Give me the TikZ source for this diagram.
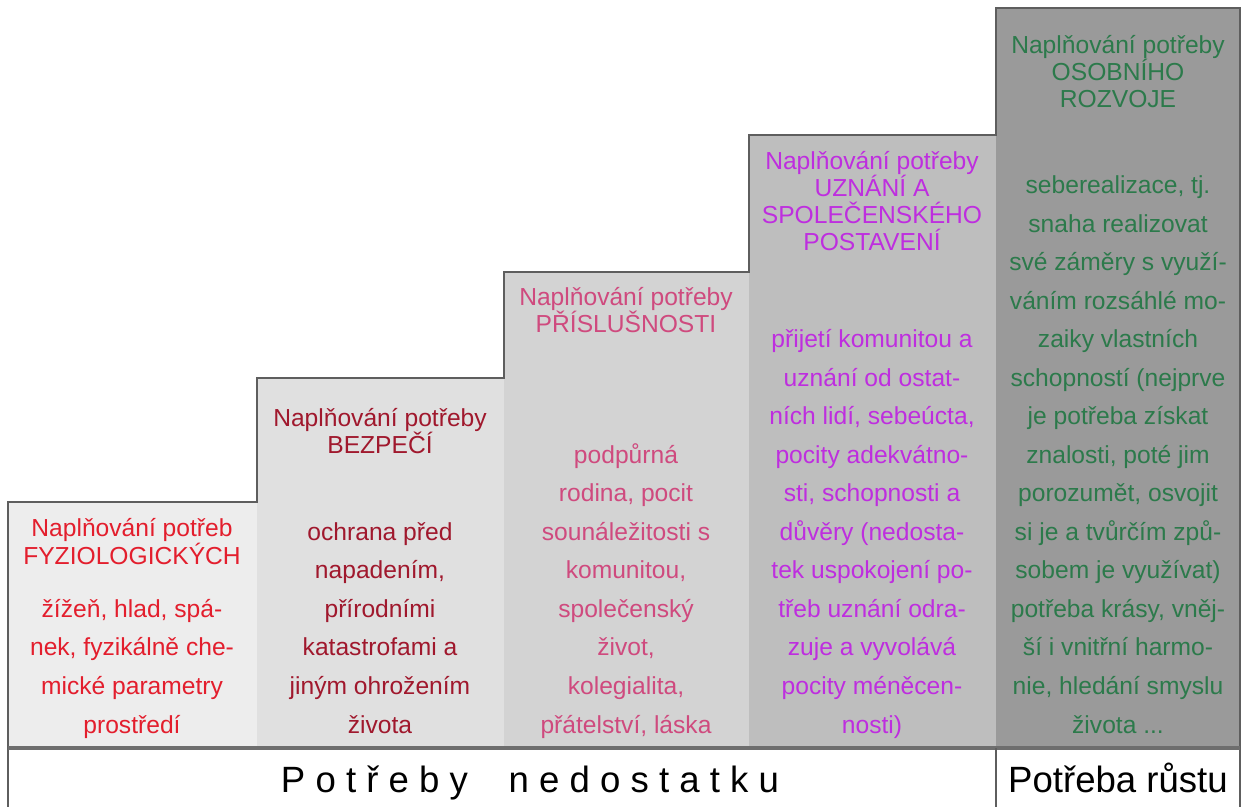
\documentclass[tikz,border=0pt]{standalone}
\usepackage{fontspec}
\setmainfont{Liberation Sans}

\definecolor{stepone}{HTML}{EDEDED}
\definecolor{steptwo}{HTML}{E0E0E0}
\definecolor{stepthree}{HTML}{D3D3D3}
\definecolor{stepfour}{HTML}{BEBEBE}
\definecolor{stepfive}{HTML}{9A9A9A}
\definecolor{textone}{HTML}{E31E2D}
\definecolor{texttwo}{HTML}{A0182D}
\definecolor{textthree}{HTML}{CF4A7E}
\definecolor{textfour}{HTML}{BE2EDF}
\definecolor{textfive}{HTML}{2C7A4B}
\definecolor{edge}{HTML}{5E5E5E}

\begin{document}
\begin{tikzpicture}[x=0.01cm, y=-0.01cm,
    needtitle/.style={align=center, anchor=base, inner sep=0pt,
      font=\fontsize{7}{7.7}\selectfont},
    needtext/.style={align=center, anchor=base, inner sep=0pt,
      font=\fontsize{7}{10.95}\selectfont},
    stair/.style={draw=edge, line width=0.6pt},
    bandtext/.style={anchor=base, inner sep=0pt,
      font=\fontsize{10.4}{12}\selectfont}
  ]

  \useasboundingbox (0,0) rectangle (1243,807);

  % the five steps
  \fill[stepone] (8,502) rectangle (257,748);
  \fill[steptwo] (257,378) rectangle (504,748);
  \fill[stepthree] (504,272) rectangle (749,748);
  \fill[stepfour] (749,135) rectangle (996,748);
  \fill[stepfive] (996,8) rectangle (1240,748);

  % outline of the staircase and the bottom band
  \draw[stair] (8,807) -- (8,502) -- (257,502) -- (257,378) -- (504,378)
    -- (504,272) -- (749,272) -- (749,135) -- (996,135) -- (996,8)
    -- (1240,8) -- (1240,807);
  \draw[draw=edge!90, line width=1.1pt] (8,748) -- (1240,748);
  \draw[stair] (996,748) -- (996,807);

  % 1st step: physiological needs
  \node[needtitle, textone] (t1) at (132,564) {Naplňování potřeb\\FYZIOLOGICKÝCH};
  \node[needtext, textone] (b1) at (132,733) {žížeň, hlad, spá-\\nek, fyzikálně che-\\mické parametry\\prostředí};

  % 2nd step: safety
  \node[needtitle, texttwo] (t2) at (380,454) {Naplňování potřeby\\BEZPEČÍ};
  \node[needtext, texttwo] (b2) at (380,733) {ochrana před\\napadením,\\přírodními\\katastrofami a\\jiným ohrožením\\života};

  % 3rd step: belonging
  \node[needtitle, textthree] (t3) at (626,333) {Naplňování potřeby\\PŘÍSLUŠNOSTI};
  \node[needtext, textthree] (b3) at (626,733) {podpůrná\\rodina, pocit\\sounáležitosti s\\komunitou,\\společenský\\život,\\kolegialita,\\přátelství, láska};

  % 4th step: esteem
  \node[needtitle, textfour] (t4) at (872,251) {Naplňování potřeby\\UZNÁNÍ A\\SPOLEČENSKÉHO\\POSTAVENÍ};
  \node[needtext, textfour] (b4) at (872,733) {přijetí komunitou a\\uznání od ostat-\\ních lidí, sebeúcta,\\pocity adekvátno-\\sti, schopnosti a\\důvěry (nedosta-\\tek uspokojení po-\\třeb uznání odra-\\zuje a vyvolává\\pocity méněcen-\\nosti)};

  % 5th step: growth
  \node[needtitle, textfive] (t5) at (1118,108) {Naplňování potřeby\\OSOBNÍHO\\ROZVOJE};
  \node[needtext, textfive] (b5) at (1118,733) {seberealizace, tj.\\snaha realizovat\\své záměry s využí-\\váním rozsáhlé mo-\\zaiky vlastních\\schopností (nejprve\\je potřeba získat\\znalosti, poté jim\\porozumět, osvojit\\si je a tvůrčím způ-\\sobem je využívat)\\potřeba krásy, vněj-\\ší i vnitřní harmo-\\nie, hledání smyslu\\života ...};

  % bottom band
  \node[bandtext] (lack) at (530,792) {P o t ř e b y ~~ n e d o s t a t k u};
  \node[bandtext] (grow) at (1118,792) {Potřeba růstu};

\end{tikzpicture}
\end{document}
